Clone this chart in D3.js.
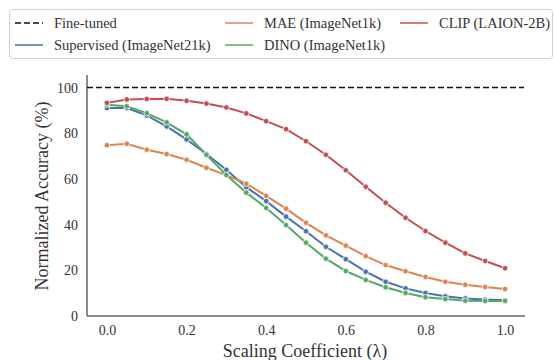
<!DOCTYPE html>
<html>
<head>
<meta charset="utf-8">
<script src="https://cdn.jsdelivr.net/npm/d3@7"></script>
<style>
  html, body { margin: 0; padding: 0; background: #fff; }
  svg { display: block; }
  svg text { font-family: "Liberation Serif", "DejaVu Serif", serif !important; }
</style>
</head>
<body>
<svg id="chart" width="554" height="360"></svg>
<script>
const lambdas = [0, 0.05, 0.1, 0.15, 0.2, 0.25, 0.3, 0.35, 0.4, 0.45, 0.5, 0.55, 0.6, 0.65, 0.7, 0.75, 0.8, 0.85, 0.9, 0.95, 1.0];
const supervised = [91.0, 91.0, 87.8, 83.0, 77.3, 70.9, 64.0, 56.4, 50.3, 43.5, 37.1, 30.3, 24.9, 19.4, 15.0, 12.1, 10.1, 8.6, 7.7, 7.2, 6.9];
const mae = [74.8, 75.4, 72.8, 70.9, 68.4, 64.9, 61.7, 57.9, 52.6, 47.0, 40.8, 35.3, 30.8, 26.2, 22.3, 19.6, 17.1, 15.0, 13.7, 12.7, 11.8];
const dino = [92.5, 91.8, 88.8, 84.8, 79.5, 70.6, 61.7, 54.0, 47.3, 39.8, 32.1, 25.1, 19.7, 15.8, 12.6, 10.1, 8.2, 7.4, 6.7, 6.6, 6.6];
const clip = [93.3, 94.8, 95.0, 95.1, 94.2, 93.0, 91.3, 88.7, 85.3, 81.8, 76.5, 70.6, 63.8, 56.6, 49.6, 43.0, 37.2, 32.1, 27.4, 24.1, 20.9];
const fineTuned = 100;
const seriesNames = ["Supervised (ImageNet21k)", "MAE (ImageNet1k)", "DINO (ImageNet1k)", "CLIP (LAION-2B)"];
const seriesColors = ["#4c72b0", "#dd8452", "#55a868", "#c44e52"];
const xTicks = [0, 0.2, 0.4, 0.6, 0.8, 1.0];
const yTicks = [0, 20, 40, 60, 80, 100];

const seriesData = [supervised, mae, dino, clip];
const FONT = '"Liberation Serif", "DejaVu Serif", serif';

const svg = d3.select("#chart");
const mLeft = 87, mRight = 525, mTop = 75, mBottom = 316;

const x = d3.scaleLinear().domain([-0.05, 1.05]).range([mLeft, mRight]);
const y = d3.scaleLinear().domain([0, 105.5]).range([mBottom, mTop]);

// axes (spines only, no tick marks)
const xAxis = d3.axisBottom(x).tickValues(xTicks).tickFormat(d3.format(".1f")).tickSize(0).tickPadding(9);
const yAxis = d3.axisLeft(y).tickValues(yTicks).tickFormat(d3.format("d")).tickSize(0).tickPadding(9);

const gx = svg.append("g").attr("transform", `translate(0,${mBottom})`).call(xAxis);
const gy = svg.append("g").attr("transform", `translate(${mLeft},0)`).call(yAxis);
[gx, gy].forEach(g => {
  g.attr("font-family", FONT);
  g.select(".domain").attr("stroke", "#666").attr("stroke-width", 1.5);
  g.selectAll("text").attr("font-size", 14).attr("fill", "#333").attr("font-family", FONT);
});
gx.select(".domain").attr("d", `M${mLeft},0H${mRight}`);
gy.select(".domain").attr("d", `M0,${mBottom}V${mTop}`);

// fine-tuned reference line
svg.append("line")
  .attr("x1", mLeft).attr("x2", mRight - 1)
  .attr("y1", y(fineTuned)).attr("y2", y(fineTuned))
  .attr("stroke", "#111").attr("stroke-width", 1.6)
  .attr("stroke-dasharray", "6,3");

// series lines
const line = d3.line().x((d, i) => x(lambdas[i])).y(d => y(d));
seriesData.forEach((vals, k) => {
  svg.append("path")
    .attr("d", line(vals))
    .attr("fill", "none")
    .attr("stroke", seriesColors[k])
    .attr("stroke-width", 2);
  svg.append("g").selectAll("circle").data(vals).join("circle")
    .attr("cx", (d, i) => x(lambdas[i]))
    .attr("cy", d => y(d))
    .attr("r", 2.8)
    .attr("fill", seriesColors[k])
    .attr("stroke", "#fff")
    .attr("stroke-width", 0.8);
});

// axis titles
svg.append("text")
  .attr("x", 305).attr("y", 357)
  .attr("text-anchor", "middle")
  .attr("font-family", FONT)
  .attr("font-size", 18).attr("fill", "#333")
  .text("Scaling Coefficient (λ)");
svg.append("text")
  .attr("transform", "translate(48,196) rotate(-90)")
  .attr("text-anchor", "middle")
  .attr("font-family", FONT)
  .attr("font-size", 18).attr("fill", "#333")
  .text("Normalized Accuracy (%)");

// legend
const lg = svg.append("g");
lg.append("rect")
  .attr("x", 9.5).attr("y", 9.5).attr("width", 543).attr("height", 49)
  .attr("rx", 3).attr("fill", "#fff").attr("stroke", "#d0d0d0").attr("stroke-width", 1);
const legendItems = [
  { name: "Fine-tuned", color: "#111", dash: "6,3", col: 0, row: 0 },
  { name: seriesNames[0], color: seriesColors[0], dash: null, col: 0, row: 1 },
  { name: seriesNames[1], color: seriesColors[1], dash: null, col: 1, row: 0 },
  { name: seriesNames[2], color: seriesColors[2], dash: null, col: 1, row: 1 },
  { name: seriesNames[3], color: seriesColors[3], dash: null, col: 2, row: 0 }
];
const colX = [15, 225, 400];
const rowY = [23, 45];
legendItems.forEach(it => {
  const lx = colX[it.col], ly = rowY[it.row];
  lg.append("line")
    .attr("x1", lx).attr("x2", lx + 28).attr("y1", ly).attr("y2", ly)
    .attr("stroke", it.color).attr("stroke-width", it.dash ? 1.6 : 1.5)
    .attr("stroke-dasharray", it.dash);
  lg.append("text")
    .attr("x", lx + 39).attr("y", ly).attr("dy", "0.35em")
    .attr("font-family", FONT)
    .attr("font-size", 14.5).attr("fill", "#333")
    .text(it.name);
});
</script>
</body>
</html>
